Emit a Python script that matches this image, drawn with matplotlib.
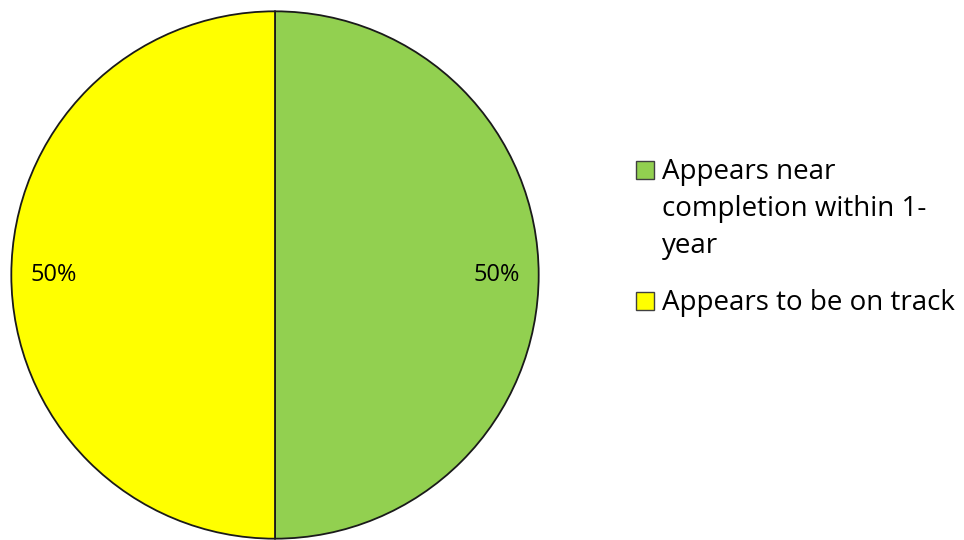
import matplotlib
matplotlib.use("Agg")
import matplotlib.pyplot as plt
from matplotlib.patches import Rectangle

labels = ["Appears near\ncompletion within 1-\nyear", "Appears to be on track"]
values = [50, 50]
colors = ["#92D050", "#FFFF00"]

W, H = 964, 540
fig = plt.figure(figsize=(W/100, H/100), dpi=100)
ax = fig.add_axes([10/W, 0/H, 530/W, 530/H])
wedges, texts, autotexts = ax.pie(
    values, colors=colors, startangle=90, counterclock=False,
    autopct="%1.0f%%", pctdistance=0.84,
    wedgeprops=dict(edgecolor="#1a1a1a", linewidth=1.3),
    textprops=dict(fontsize=17, family="Open Sans", color="black"),
)
ax.set_aspect("equal")
ax.set_xlim(-1.005, 1.005)
ax.set_ylim(-1.005, 1.005)

# legend drawn manually (square aligned with first text line)
entry_top = [161, 292]     # pixel top of each legend square
line_pitch = 37
for i, (lab, col) in enumerate(zip(labels, colors)):
    top = entry_top[i]
    fig.patches.append(Rectangle((636/W, 1 - (top + 18)/H), 18/W, 18/H,
                                 transform=fig.transFigure, facecolor=col,
                                 edgecolor="#404040", linewidth=1.0))
    for j, line in enumerate(lab.split("\n")):
        base = top + 18 + j * line_pitch
        fig.text(662/W, 1 - base/H, line, family="Open Sans", fontsize=20,
                 va="baseline", ha="left", color="black")
fig.savefig("out.png", dpi=100)
